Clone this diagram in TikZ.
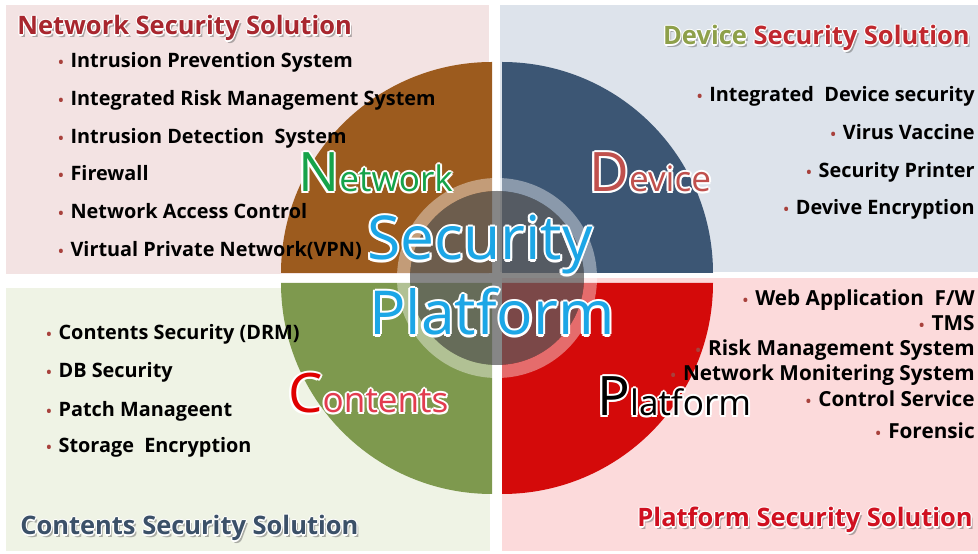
\documentclass[tikz,border=0pt]{standalone}
\usepackage{fontspec}
\setmainfont{Open Sans}
\usetikzlibrary{calc}

\definecolor{netpanel}{HTML}{F3E3E3}
\definecolor{devpanel}{HTML}{DDE3EB}
\definecolor{conpanel}{HTML}{EFF3E5}
\definecolor{platpanel}{HTML}{FCDADB}
\definecolor{netbrown}{HTML}{9C5B1E}
\definecolor{devblue}{HTML}{3C5674}
\definecolor{congreen}{HTML}{7E994E}
\definecolor{platred}{HTML}{D40A0A}
\definecolor{discgray}{HTML}{5E5E5E}
\definecolor{bulletred}{HTML}{A8413C}
\definecolor{titlered}{HTML}{A8262E}
\definecolor{devolive}{HTML}{8EA04A}
\definecolor{devred}{HTML}{C0282E}
\definecolor{conslate}{HTML}{3B5068}
\definecolor{platttl}{HTML}{D01020}
\definecolor{netgreen}{HTML}{16A34A}
\definecolor{devD}{HTML}{C0504D}
\definecolor{conC}{HTML}{E00000}
\definecolor{conrest}{HTML}{E23C4F}
\definecolor{seccyan}{HTML}{1CA6E6}

\tikzset{
  item/.style={font=\bfseries\fontsize{11.3}{13}\selectfont, inner sep=0pt},
  bigitem/.style={font=\bfseries\fontsize{11.8}{14}\selectfont, inner sep=0pt},
  soltitle/.style={font=\bfseries\fontsize{14.5}{17}\selectfont, inner sep=0pt},
  biglabel/.style={font=\fontsize{20}{24}\selectfont, inner sep=0pt, anchor=base west},
  center/.style={font=\fontsize{34.5}{38}\selectfont, inner sep=0pt, anchor=base west, text=seccyan}
}
\newcommand\bul{{\color{bulletred}\fontsize{8}{8}\selectfont\textbullet}\hspace{0.35em}}
\newcommand\plainhc[2]{{#2}}
\newcommand\hc[2]{{\color{#1}#2}}
\newcommand\initcap[2]{\hc{#1}{\fontsize{31}{31}\selectfont #2}}
% 白色描边文字
\newcommand\halotext[5][2]{%
  \foreach \ox/\oy in {1/0,-1/0,0/1,0/-1,0.7/0.7,-0.7/0.7,0.7/-0.7,-0.7/-0.7}
    \node[#4, text=white] at ($(#2)+(#1*\ox,#1*\oy)$) {\let\hc\plainhc#5};
  \node[#4] (#3) at (#2) {#5};}
% 带阴影的标题
\newcommand\titletext[4]{%
  \node[#3, text=black!60, opacity=.5] at ($(#1)+(2,-2.5)$) {\let\hc\plainhc#4};
  \halotext[1.2]{#1}{#2}{#3}{#4}}

\begin{document}
\begin{tikzpicture}[x=0.02cm, y=0.02cm]
  \useasboundingbox (0,0) rectangle (978,554);
  % 四个背景块
  \fill[netpanel] (6,280) rectangle (489,549);
  \fill[devpanel] (500,282) rectangle (978,549);
  \fill[conpanel] (6,3) rectangle (490,266);
  \fill[platpanel] (502,3) rectangle (978,276);
  % 四分之一圆
  \coordinate (ctr) at (497,276);
  \foreach \ang/\col/\dx/\dy in {90/netbrown/-5/5, 0/devblue/5/5, 180/congreen/-5/-5, 270/platred/5/-5}
    \fill[\col] ($(ctr)+(\dx,\dy)$) -- +(\ang:211) arc[start angle=\ang, end angle=\ang+90, radius=211] -- cycle;
  % 中心圆
  \fill[white, opacity=.4, even odd rule] (ctr) circle[radius=100] (ctr) circle[radius=87];
  \fill[discgray, opacity=.75] (ctr) circle[radius=87];
  % 标题
  \titletext{17,519}{nettitle}{soltitle, anchor=base west, text=titlered}{Network Security Solution}
  \titletext{970,509}{devtitle}{soltitle, anchor=base east, text=devred}{\hc{devolive}{Device} Security Solution}
  \titletext{20,19}{contitle}{soltitle, anchor=base west, text=conslate}{Contents Security Solution}
  \titletext{973,27}{plattitle}{soltitle, anchor=base east, text=platttl}{Platform Security Solution}
  % 列表
  \foreach \y/\txt [count=\i] in {486/Intrusion Prevention System, 448/Integrated Risk Management System,
      410/Intrusion Detection\ \ System, 373/Firewall, 335/Network Access Control, 297/Virtual Private Network(VPN)}
    \node[item, anchor=base west] (net\i) at (58,\y) {\bul\txt};
  \foreach \y/\txt [count=\i] in {452/Integrated\ \ Device security, 414/Virus Vaccine, 376/Security Printer, 339/Devive Encryption}
    \node[item, anchor=base east] (dev\i) at (975,\y) {\bul\txt};
  \foreach \y/\txt [count=\i] in {214/Contents Security (DRM), 176/DB Security, 137/Patch Manageent, 101/Storage\ \ Encryption}
    \node[item, anchor=base west] (con\i) at (46,\y) {\bul\txt};
  \foreach \y/\txt [count=\i] in {248/{Web Application\ \ F/W}, 223/TMS, 198/Risk Management System,
      173/Network Monitering System, 147/Control Service, 115/Forensic}
    \node[bigitem, anchor=base east] (plat\i) at (975,\y) {\bul\txt};
  % 大字
  \halotext{298,362}{netlabel}{biglabel, text=netgreen}{\initcap{netgreen}{N}etwork}
  \halotext{589,362}{devlabel}{biglabel, text=devD}{\initcap{devD}{D}evice}
  \halotext{288,141}{conlabel}{biglabel, text=conrest}{\initcap{conC}{C}ontents}
  \halotext{597,138}{platlabel}{biglabel, text=black}{\initcap{black}{P}latform}
  \halotext[2.2]{367,294}{security}{center}{Security}
  \halotext[2.2]{369,219}{platform}{center}{Platform}
\end{tikzpicture}
\end{document}
